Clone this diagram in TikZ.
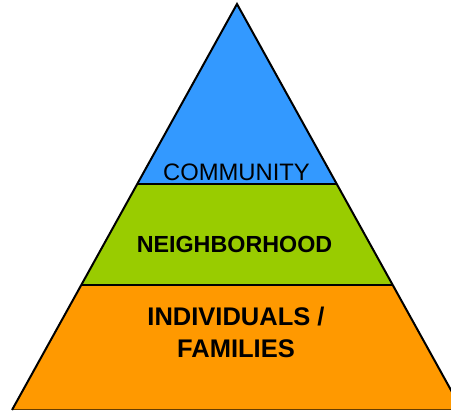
\documentclass[tikz,border=0pt]{standalone}
\usepackage{fontspec}
\setmainfont{Liberation Sans}
\usetikzlibrary{calc}
\definecolor{topblue}{HTML}{3399FF}
\definecolor{midgreen}{HTML}{99CC00}
\definecolor{botorange}{HTML}{FF9900}
\begin{document}
\begin{tikzpicture}[x=1pt,y=-1pt,
  layer/.style={draw=black,line width=1.5pt,line join=miter},
  lbl/.style={align=center,inner sep=0pt}]
\useasboundingbox (0,0) rectangle (451,412);
\clip (0,0) rectangle (451,412);
\coordinate (apex) at (237,4);
\coordinate (bl) at (12,410);
\coordinate (br) at (462,410);
\coordinate (l1) at ($(apex)!0.4433!(bl)$);
\coordinate (r1) at ($(apex)!0.4433!(br)$);
\coordinate (l2) at ($(apex)!0.6921!(bl)$);
\coordinate (r2) at ($(apex)!0.6921!(br)$);
\fill[botorange] (l2) -- (r2) -- (br) -- (bl) -- cycle;
\fill[midgreen] (l1) -- (r1) -- (r2) -- (l2) -- cycle;
\fill[topblue] (apex) -- (r1) -- (l1) -- cycle;
\draw[layer] (l1) -- (r1);
\draw[layer] (l2) -- (r2);
\draw[draw=black!60!botorange,line width=1pt] (bl) -- (br);
\draw[layer,line width=2pt] (bl) -- (apex) -- (br);
\node[lbl,font=\fontsize{23.8}{28}\selectfont] (community) at (236.5,172) {COMMUNITY};
\node[lbl,font=\bfseries\fontsize{23.3}{28}\selectfont] (neighborhood) at (234.5,244) {NEIGHBORHOOD};
\node[lbl,font=\bfseries\fontsize{25.5}{32.3}\selectfont] (individuals) at (236,332.6) {INDIVIDUALS /\\FAMILIES};
\end{tikzpicture}
\end{document}
